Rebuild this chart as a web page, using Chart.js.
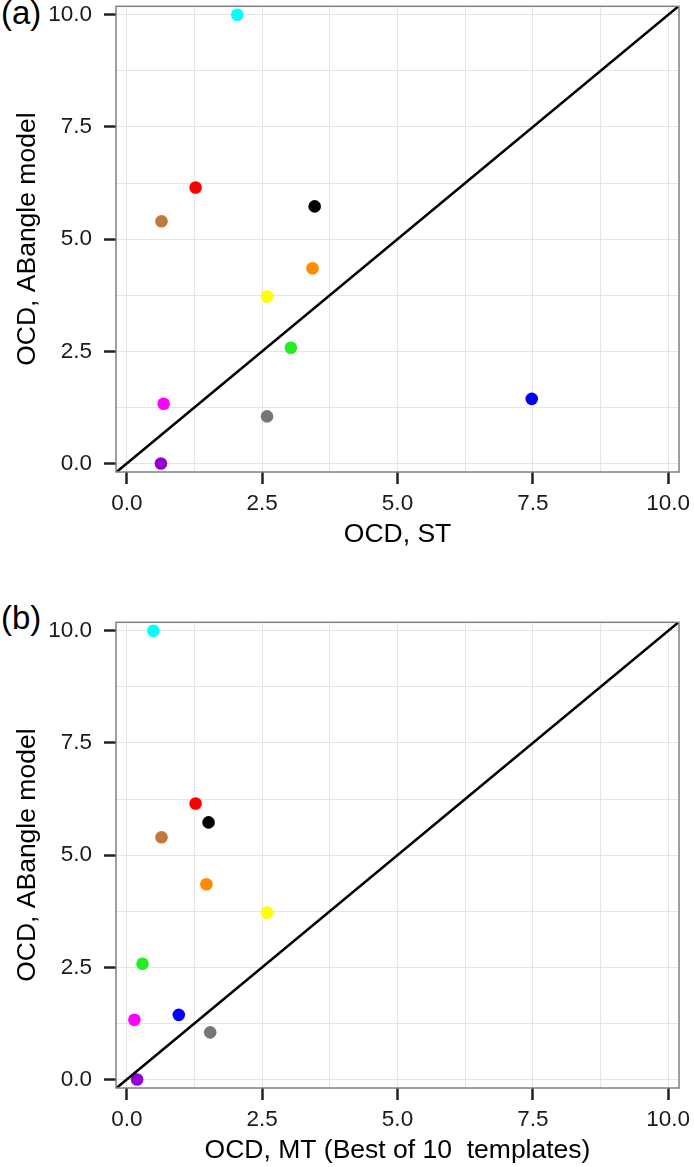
<!DOCTYPE html>
<html>
<head>
<meta charset="utf-8">
<script src="https://cdn.jsdelivr.net/npm/chart.js@4"></script>
<style>
body { margin: 0; background: #fff; width: 694px; height: 1167px; position: relative; overflow: hidden; font-family: "Liberation Sans", Arial, sans-serif; }
.panel { position: absolute; left: 0; width: 694px; height: 551px; }
.tag { position: absolute; left: 1px; font-size: 33px; line-height: 33px; color: #000; }
</style>
</head>
<body>
<div class="tag" style="top:-4px">(a)</div>
<div class="panel" style="top:0"><canvas id="chart-a"></canvas></div>
<div class="tag" style="top:601px">(b)</div>
<div class="panel" style="top:616px"><canvas id="chart-b"></canvas></div>
<script>
var pointColors = ['#00ffff', '#ff0000', '#c27a3c', '#000000', '#ff8c00', '#ffff00', '#22ee22', '#ff00ff', '#777777', '#0000ff', '#9400d3'];
var ocdAbangle = [10.0, 6.15, 5.40, 5.73, 4.35, 3.72, 2.58, 1.33, 1.05, 1.44, 0.0];
var ocdST = [2.04, 1.27, 0.64, 3.47, 3.43, 2.59, 3.03, 0.68, 2.59, 7.48, 0.63];
var ocdMT = [0.49, 1.27, 0.64, 1.51, 1.47, 2.59, 0.29, 0.14, 1.54, 0.96, 0.19];
var tickValues = [0, 2.5, 5, 7.5, 10];
var gridValues = [0, 1.25, 2.5, 3.75, 5, 6.25, 7.5, 8.75, 10];
var diagonal = [-0.2, 10.2];

var fontFamily = '"Liberation Sans", Arial, sans-serif';

// grey frame round the plot panel, like ggplot theme_bw
var panelBorder = {
    id: 'panelBorder',
    afterDraw: function(chart) {
        var a = chart.chartArea, c = chart.ctx;
        c.save();
        c.strokeStyle = '#7f7f7f';
        c.lineWidth = 1.5;
        c.strokeRect(a.left, a.top, a.right - a.left, a.bottom - a.top);
        c.restore();
    }
};

function axis(title, isX) {
    return {
        type: 'linear',
        min: isX ? -0.2 : -0.19,
        max: isX ? 10.2 : 10.19,
        afterBuildTicks: function(scale) {
            scale.ticks = gridValues.map(function(v) { return {value: v}; });
        },
        afterFit: function(scale) {
            // fixed axis boxes, and no extra room for edge labels
            if (isX) scale.height = 79; else scale.width = 116;
            scale.paddingTop = 0;
            scale.paddingBottom = 0;
            scale.paddingLeft = 0;
            scale.paddingRight = 0;
        },
        grid: {
            color: '#e5e5e5',
            lineWidth: 1,
            drawTicks: true,
            tickLength: 12,
            tickWidth: 2.5,
            tickColor: function(c) {
                return tickValues.indexOf(c.tick.value) >= 0 ? '#222222' : 'rgba(0,0,0,0)';
            }
        },
        border: {display: false},
        ticks: {
            autoSkip: false,
            maxRotation: 0,
            padding: isX ? 9 : 12,
            color: '#1a1a1a',
            font: {family: fontFamily, size: 22.5, lineHeight: 1},
            callback: function(v) {
                return tickValues.indexOf(v) >= 0 ? v.toFixed(1) : '';
            }
        },
        title: {
            display: true,
            text: title,
            color: '#000',
            font: {family: fontFamily, size: 26.5, lineHeight: 1.2},
            padding: isX ? {top: 0, bottom: 0} : {top: 12, bottom: 0}
        }
    };
}

function makeChart(id, xs, xTitle) {
    var ctx = document.getElementById(id);
    return new Chart(ctx, {
        type: 'scatter',
        data: {
            datasets: [
                {
                    type: 'line',
                    data: diagonal.map(function(v) { return {x: v, y: v}; }),
                    borderColor: '#000000',
                    borderWidth: 2.5,
                    pointRadius: 0,
                    fill: false
                },
                {
                    type: 'scatter',
                    data: xs.map(function(x, i) { return {x: x, y: ocdAbangle[i]}; }),
                    backgroundColor: pointColors,
                    pointRadius: 6.3,
                    borderWidth: 0
                }
            ]
        },
        options: {
            responsive: true,
            maintainAspectRatio: false,
            animation: false,
            events: [],
            layout: {padding: {top: 3, right: 15, left: 0, bottom: 0}},
            plugins: {legend: {display: false}, tooltip: {enabled: false}},
            scales: {
                x: axis(xTitle, true),
                y: axis('OCD, ABangle model', false)
            }
        },
        plugins: [panelBorder]
    });
}

var chartA = makeChart('chart-a', ocdST, 'OCD, ST');
var chartB = makeChart('chart-b', ocdMT, 'OCD, MT (Best of 10  templates)');
</script>
</body>
</html>
